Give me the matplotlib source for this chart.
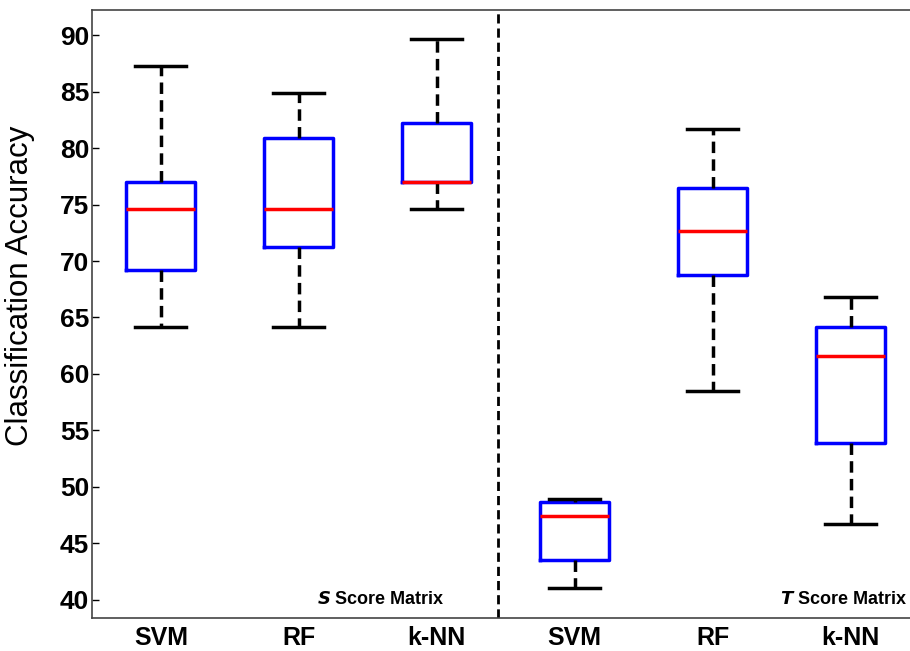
import matplotlib
matplotlib.use("Agg")
import matplotlib.pyplot as plt

plt.rcParams['font.family'] = ['Liberation Sans', 'DejaVu Sans']

# data (box statistics)
labels = ["SVM", "RF", "k-NN", "SVM", "RF", "k-NN"]
whislo = [64.2, 64.2, 74.6, 41.0, 58.5, 46.7]
q1 = [69.2, 71.2, 77.0, 43.5, 68.8, 53.9]
med = [74.6, 74.6, 77.0, 47.4, 72.7, 61.6]
q3 = [77.0, 80.9, 82.2, 48.7, 76.5, 64.2]
whishi = [87.3, 84.9, 89.7, 48.9, 81.7, 66.8]
yticks = [40, 45, 50, 55, 60, 65, 70, 75, 80, 85, 90]

stats = []
for i in range(len(labels)):
    stats.append(dict(label=labels[i], whislo=whislo[i], q1=q1[i], med=med[i],
                      q3=q3[i], whishi=whishi[i], fliers=[]))

fig = plt.figure(figsize=(9.1, 6.51), dpi=100)
ax = fig.add_axes([0.101, 0.051, 0.899, 0.933])

dash = (0, (3.3, 1.8))
ax.bxp(stats, positions=range(1, 7), widths=0.5, showfliers=False,
       boxprops=dict(color='blue', linewidth=2.5),
       medianprops=dict(color='red', linewidth=2.5),
       whiskerprops=dict(color='black', linewidth=2.5, linestyle=dash),
       capprops=dict(color='black', linewidth=2.5),
       capwidths=0.37)

ax.axvline(3.44, color='black', linewidth=2, linestyle=dash)

ax.set_xlim(0.5, 6.43)
ax.set_ylim(38.4, 92.2)
ax.set_yticks(yticks)
ax.set_xticks(range(1, 7))
ax.set_xticklabels(labels, fontsize=18, fontweight='bold')
ax.tick_params(axis='y', direction='in', length=5, labelsize=19, width=1, pad=2)
ax.tick_params(axis='x', length=0, pad=6)
for t in ax.get_yticklabels():
    t.set_fontweight('bold')
ax.set_ylabel("Classification Accuracy", fontsize=22.5)
ax.yaxis.set_label_coords(-0.069, 0.546)

for s in ax.spines.values():
    s.set_color('#444444')
    s.set_linewidth(1.2)
ax.spines['right'].set_visible(False)

ax.text(3.06, 39.3, r"$\mathbfit{S}$ Score Matrix", ha='right', va='bottom',
        fontsize=13, fontweight='bold')
ax.text(6.41, 39.3, r"$\mathbfit{T}$ Score Matrix", ha='right', va='bottom',
        fontsize=13, fontweight='bold')

fig.savefig("out.png", dpi=100)
